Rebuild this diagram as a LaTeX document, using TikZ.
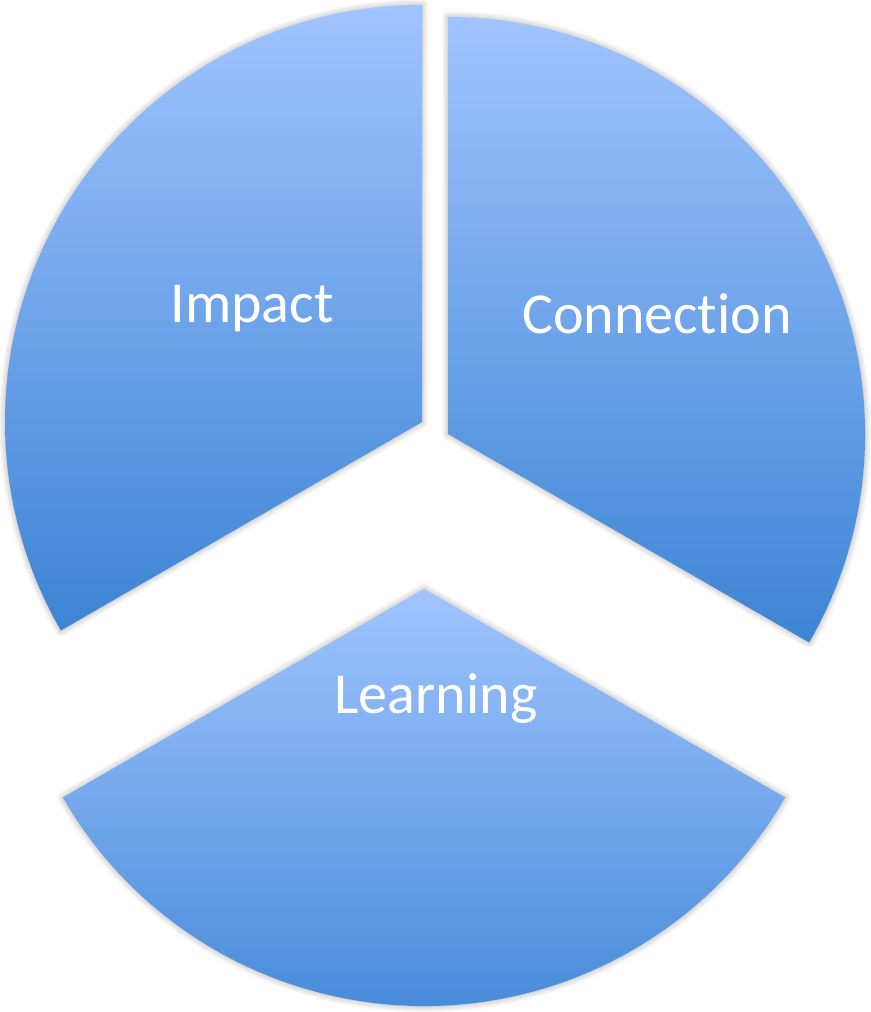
\documentclass[tikz,border=0pt]{standalone}
\usepackage{fontspec}
\setmainfont[Ligatures={NoCommon}]{Carlito}
\usetikzlibrary{shadows.blur}
\def\pieradius{4.17}

\begin{document}
\begin{tikzpicture}[every node/.append style={text=white, font=\fontsize{16.5}{20}\selectfont}]
    \tikzstyle{slice}=[top color=sliceTop, middle color=sliceMid, bottom color=sliceBot,
        blur shadow={shadow xshift=0.035, shadow yshift=-0.035, shadow blur steps=6, shadow opacity=35}]
    \tikzstyle{slice label}=[anchor=base, inner sep=0pt]
    \definecolor{sliceTop}{HTML}{A0C4FF}
    \definecolor{sliceMid}{HTML}{80AFF0}
    \definecolor{sliceBot}{HTML}{3C84D4}

    \useasboundingbox (0,0) rectangle (8.71,10.12);

    % Tips of the three slices
    \coordinate (impact-tip) at (4.22,5.90);
    \coordinate (connection-tip) at (4.48,5.78);
    \coordinate (learning-tip) at (4.24,4.23);

    % Draw the slices
    \path[slice] (impact-tip) -- ++(90:\pieradius) arc[start angle=90, end angle=210, radius=\pieradius] -- cycle;
    \path[slice] (connection-tip) -- ++(-30:\pieradius) arc[start angle=-30, end angle=90, radius=\pieradius] -- cycle;
    \path[slice] (learning-tip) -- ++(210:\pieradius) arc[start angle=210, end angle=330, radius=\pieradius] -- cycle;

    % Labels (kern keeps the t and i apart)
    \node[slice label] (impact) at (2.52,6.90) {Impact};
    \node[slice label] (connection) at (6.57,6.79) {Connect\kern0pt ion};
    \node[slice label] (learning) at (4.36,2.99) {Learning};

\end{tikzpicture}
\end{document}
